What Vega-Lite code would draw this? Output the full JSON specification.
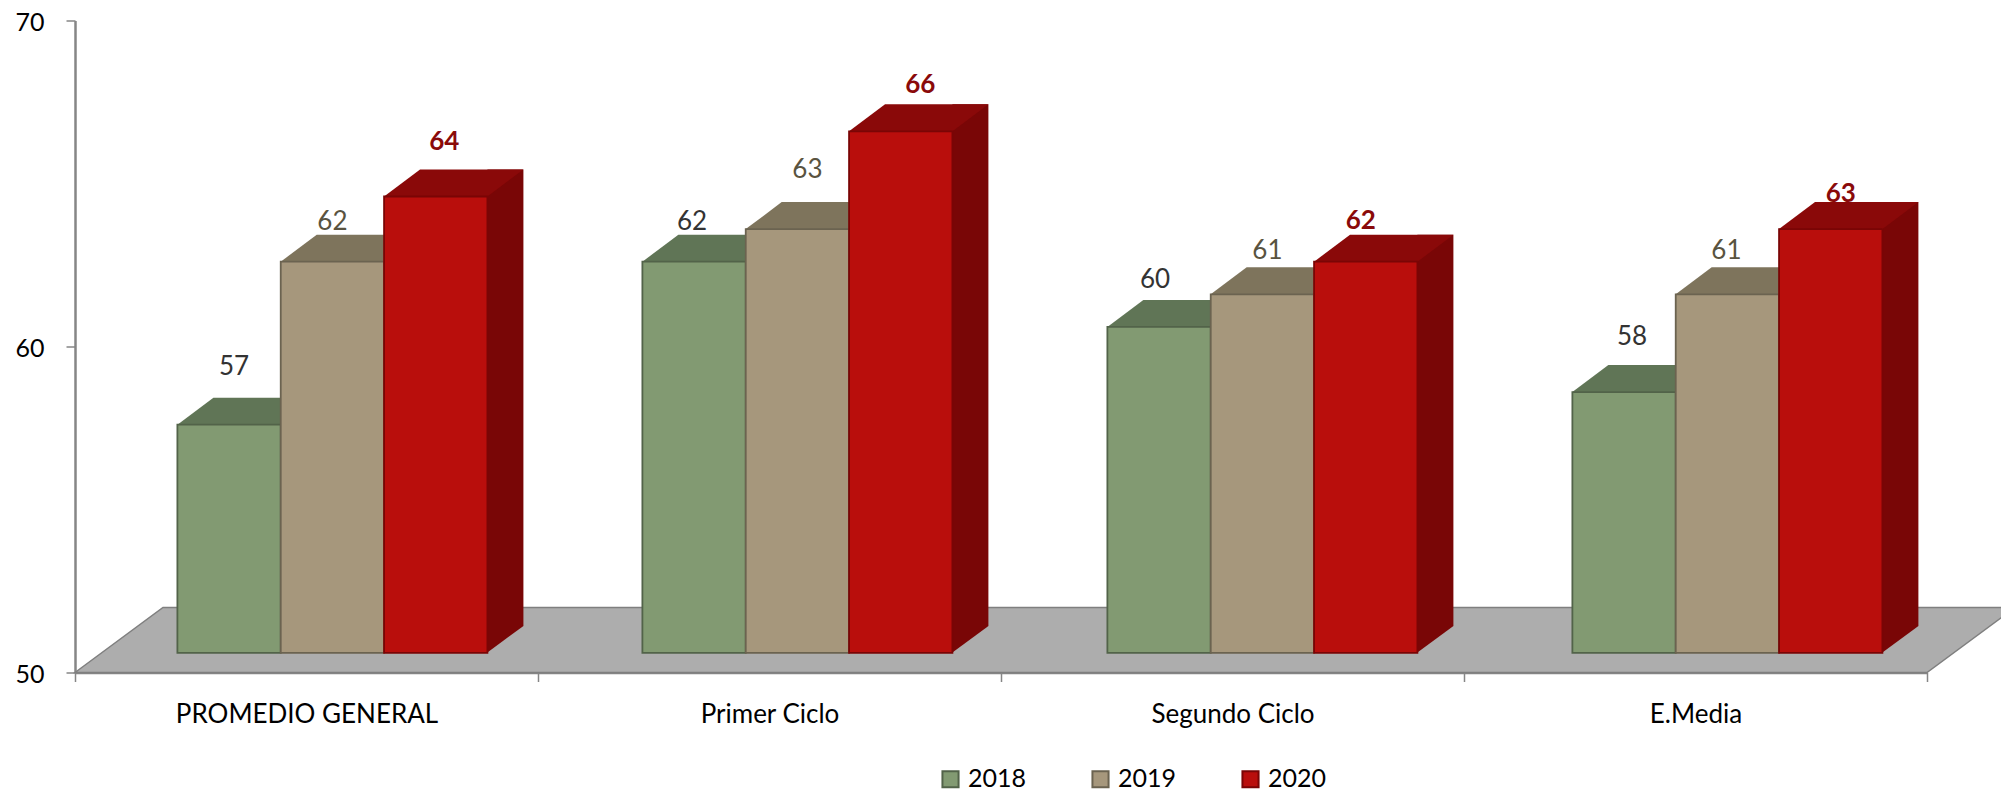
{
"$schema":"https://vega.github.io/schema/vega-lite/v6.json",
"autosize":{"type":"none"},
"padding":{"left":75,"top":20.5,"right":74,"bottom":118.5},
"width":1852,"height":652,
"background":"white",
"config":{"view":{"stroke":null},"font":"Lato"},
"datasets":{"notas":[
{"categoria":"PROMEDIO GENERAL","anio":2018,"valor":57},
{"categoria":"PROMEDIO GENERAL","anio":2019,"valor":62},
{"categoria":"PROMEDIO GENERAL","anio":2020,"valor":64},
{"categoria":"Primer Ciclo","anio":2018,"valor":62},
{"categoria":"Primer Ciclo","anio":2019,"valor":63},
{"categoria":"Primer Ciclo","anio":2020,"valor":66},
{"categoria":"Segundo Ciclo","anio":2018,"valor":60},
{"categoria":"Segundo Ciclo","anio":2019,"valor":61},
{"categoria":"Segundo Ciclo","anio":2020,"valor":62},
{"categoria":"E.Media","anio":2018,"valor":58},
{"categoria":"E.Media","anio":2019,"valor":61},
{"categoria":"E.Media","anio":2020,"valor":63}
],"piso":[{"categoria":"PROMEDIO GENERAL","base":50}]},
"resolve":{"scale":{"x":"independent","y":"independent"}},
"layer":[
{"data":{"name":"piso"},
 "mark":{"type":"point","filled":true,"opacity":1,"size":4,"fill":"#adadad","stroke":"#7f7f7f","strokeWidth":1.5,
  "shape":"M-231.5,0 L-143.5,-65 L1708.5,-65 L1620.5,0 Z"},
 "encoding":{
  "x":{"field":"categoria","type":"nominal","title":null,
   "scale":{"domain":["PROMEDIO GENERAL","Primer Ciclo","Segundo Ciclo","E.Media"],"paddingInner":0,"paddingOuter":0},
   "axis":{"labelAngle":0,"labelFontSize":26,"labelLimit":400,"labelColor":"#000000","labelPadding":20,"domainColor":"#868686","domainWidth":2.5,"tickColor":"#868686","tickWidth":1.5,"tickSize":9,"tickBand":"extent","tickExtra":true,"grid":false}},
  "y":{"field":"base","type":"quantitative","title":null,
   "scale":{"domain":[50,70],"nice":false,"zero":false},
   "axis":{"values":[50,60,70],"labelFontSize":25,"labelColor":"#000000","labelPadding":22,"labelOffset":1.5,"domainColor":"#868686","domainWidth":2.5,"tickColor":"#868686","tickWidth":1.5,"tickSize":9,"grid":false}}
 }},
{"data":{"name":"notas"},
 "encoding":{
  "x":{"field":"categoria","type":"nominal","axis":null,"title":null,
   "scale":{"domain":["PROMEDIO GENERAL","Primer Ciclo","Segundo Ciclo","E.Media"],"range":[102.4,1807.4],"paddingInner":0.3333,"paddingOuter":0}},
  "xOffset":{"field":"anio","type":"nominal","scale":{"domain":[2018,2019,2020],"paddingInner":0,"paddingOuter":0}},
  "y":{"field":"valor","type":"quantitative","axis":null,"title":null,"stack":null,
   "scale":{"domain":[50,70],"range":[632.4,-19.6],"nice":false,"zero":false}}
 },
 "layer":[
  {"transform":[{"filter":"datum.anio===2020"}],
   "mark":{"type":"bar","width":36,"xOffset":173,"yOffset":-27,"y2Offset":-27,"fill":"#790606"},
   "encoding":{"xOffset":null,"y2":{"datum":50}}},
  {"transform":[{"filter":"datum.anio===2020"}],
   "mark":{"type":"point","filled":true,"opacity":1,"size":4,"fill":"#790606","strokeWidth":0,"shape":"M51,0 L87.7,-27 L51,-27 Z"},
   "encoding":{"y":{"datum":50,"type":"quantitative"}}},
  {"mark":{"type":"point","filled":true,"opacity":1,"size":4,"strokeWidth":1.5,"shape":"M-51.7,0 L51.7,0 L87.7,-27 L-15.7,-27 Z"},
   "encoding":{
    "fill":{"field":"anio","type":"nominal","legend":null,"scale":{"range":["#607556","#7e745c","#8a0909"]}}}},
  {"mark":{"type":"bar","strokeWidth":1.8},
   "encoding":{
    "y2":{"datum":50},
    "color":{"field":"anio","type":"nominal","title":null,
     "scale":{"domain":[2018,2019,2020],"range":["#829a72","#a6977c","#b90e0c"]},
     "legend":{"orient":"none","legendX":863,"legendY":746,"direction":"horizontal","columnPadding":61,"symbolType":"square","symbolSize":260,"symbolStrokeWidth":2,"labelFontSize":25,"labelColor":"#000000","labelOffset":5}},
    "stroke":{"field":"anio","type":"nominal","title":null,
     "scale":{"domain":[2018,2019,2020],"range":["#526349","#6b6350","#7a0505"]},
     "legend":{"orient":"none","legendX":863,"legendY":746,"direction":"horizontal","columnPadding":61,"symbolType":"square","symbolSize":260,"symbolStrokeWidth":2,"labelFontSize":25,"labelColor":"#000000","labelOffset":5}}}},
  {"transform":[{"filter":"datum.categoria==='PROMEDIO GENERAL' && datum.anio===2018"}],"mark":{"type":"text","fontSize":26,"color":"#333333","dx":5,"dy":-58},"encoding":{"text":{"field":"valor"}}},
  {"transform":[{"filter":"datum.categoria==='PROMEDIO GENERAL' && datum.anio===2019"}],"mark":{"type":"text","fontSize":26,"color":"#595340","dx":0,"dy":-39.5},"encoding":{"text":{"field":"valor"}}},
  {"transform":[{"filter":"datum.categoria==='PROMEDIO GENERAL' && datum.anio===2020"}],"mark":{"type":"text","fontSize":26,"fontWeight":"bold","color":"#8a0a0a","dx":8.5,"dy":-54.5},"encoding":{"text":{"field":"valor"}}},
  {"transform":[{"filter":"datum.categoria==='Primer Ciclo' && datum.anio===2018"}],"mark":{"type":"text","fontSize":26,"color":"#333333","dx":-2,"dy":-39.5},"encoding":{"text":{"field":"valor"}}},
  {"transform":[{"filter":"datum.categoria==='Primer Ciclo' && datum.anio===2019"}],"mark":{"type":"text","fontSize":26,"color":"#595340","dx":10,"dy":-59.5},"encoding":{"text":{"field":"valor"}}},
  {"transform":[{"filter":"datum.categoria==='Primer Ciclo' && datum.anio===2020"}],"mark":{"type":"text","fontSize":26,"fontWeight":"bold","color":"#8a0a0a","dx":19.5,"dy":-46.5},"encoding":{"text":{"field":"valor"}}},
  {"transform":[{"filter":"datum.categoria==='Segundo Ciclo' && datum.anio===2018"}],"mark":{"type":"text","fontSize":26,"color":"#333333","dx":-4,"dy":-47},"encoding":{"text":{"field":"valor"}}},
  {"transform":[{"filter":"datum.categoria==='Segundo Ciclo' && datum.anio===2019"}],"mark":{"type":"text","fontSize":26,"color":"#595340","dx":5,"dy":-43.5},"encoding":{"text":{"field":"valor"}}},
  {"transform":[{"filter":"datum.categoria==='Segundo Ciclo' && datum.anio===2020"}],"mark":{"type":"text","fontSize":26,"fontWeight":"bold","color":"#8a0a0a","dx":-5,"dy":-40.5},"encoding":{"text":{"field":"valor"}}},
  {"transform":[{"filter":"datum.categoria==='E.Media' && datum.anio===2018"}],"mark":{"type":"text","fontSize":26,"color":"#333333","dx":8,"dy":-55},"encoding":{"text":{"field":"valor"}}},
  {"transform":[{"filter":"datum.categoria==='E.Media' && datum.anio===2019"}],"mark":{"type":"text","fontSize":26,"color":"#595340","dx":-1,"dy":-43.5},"encoding":{"text":{"field":"valor"}}},
  {"transform":[{"filter":"datum.categoria==='E.Media' && datum.anio===2020"}],"mark":{"type":"text","fontSize":26,"fontWeight":"bold","color":"#8a0a0a","dx":10,"dy":-35.5},"encoding":{"text":{"field":"valor"}}}
 ]}
]
}
